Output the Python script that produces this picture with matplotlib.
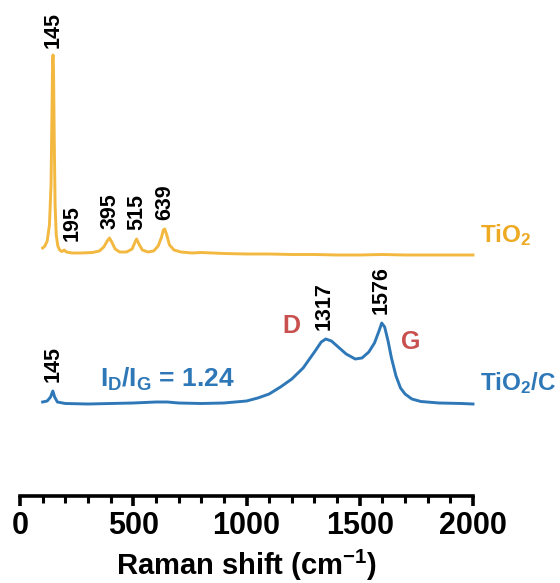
import matplotlib
matplotlib.use("Agg")
import matplotlib.pyplot as plt
import numpy as np

plt.rcParams['font.family'] = ['Liberation Sans', 'DejaVu Sans']
plt.rcParams['mathtext.fontset'] = 'custom'
plt.rcParams['mathtext.rm'] = 'Liberation Sans:bold'
plt.rcParams['mathtext.bf'] = 'Liberation Sans:bold'
plt.rcParams['mathtext.it'] = 'Liberation Sans:bold'
plt.rcParams['mathtext.default'] = 'bf'

# ---------------- data ----------------
tio2_shift = [100, 110, 120, 130, 137, 141, 144, 146, 148, 151, 155, 160, 167, 175,
              185, 195, 205, 230, 270, 320, 350, 370, 385, 395, 405, 420, 440, 470,
              495, 508, 515, 525, 540, 565, 590, 610, 625, 633, 639, 648, 660, 680,
              710, 760, 800, 900, 1000, 1100, 1200, 1300, 1400, 1500, 1600, 1700,
              1800, 1900, 2000]
tio2_int = [7, 9, 14, 30, 70, 140, 195, 200, 185, 120, 50, 20, 9, 5,
            3.5, 5, 3, 2, 2, 2.5, 4, 8, 14, 17, 13, 6, 3, 3,
            6, 13, 16, 11, 5, 3, 4, 9, 18, 25, 26, 20, 10, 5,
            3, 2, 2.5, 1.5, 1, 1, 0.5, 0.5, 0, 0, 0.5, 0,
            0, 0, 0]

tioc_shift = [100, 120, 135, 145, 153, 165, 200, 300, 400, 500, 600, 650, 700, 800,
              900, 950, 1000, 1050, 1100, 1150, 1200, 1250, 1300, 1330, 1350, 1375,
              1400, 1440, 1480, 1510, 1540, 1565, 1585, 1597, 1610, 1625, 1640, 1660,
              1680, 1700, 1730, 1770, 1850, 1950, 2000]
tioc_int = [2, 3, 7, 13, 7, 2, 0.5, 0, 0.5, 1, 2, 2, 1, 0.5,
            1, 2, 3, 6, 10, 17, 25, 36, 52, 62, 65, 63,
            58, 50, 45, 46, 52, 61, 73, 81, 77, 63, 46, 28,
            16, 10, 5, 2.5, 1, 0.5, 0]

tio2_peaks = [145, 195, 395, 515, 639]
tio2_peak_pos = [145, 228, 397, 516, 641]
tioc_peaks = [145, 1317, 1576]
tioc_peak_pos = [148, 1342, 1593]

id_ig = 1.24
xticks = [0, 500, 1000, 1500, 2000]

# ---------------- style ----------------
ORANGE = '#F3B840'
ORANGE_T = '#EDAA22'
BLUE = '#2F78B8'
RED = '#C8504E'

fig = plt.figure(figsize=(5.6, 5.83), dpi=100)
ax = fig.add_axes([20/560, 1-496/583, 453/560, 456/583])

off_tio2 = 241
off_tioc = 92

ax.plot(tio2_shift, np.array(tio2_int) + off_tio2, color=ORANGE, lw=2.1,
        solid_joinstyle='round', clip_on=False)
ax.plot(tioc_shift, np.array(tioc_int) + off_tioc, color=BLUE, lw=2.1,
        solid_joinstyle='round', clip_on=False)

ax.set_xlim(0, 2000)
ax.set_ylim(0, 456)

for lab, px in zip(tio2_peaks, tio2_peak_pos):
    h = np.interp(lab, tio2_shift, tio2_int) + off_tio2
    ax.text(px, h + 9, str(lab), rotation=90, ha='center', va='bottom',
            fontsize=15.5, fontweight='bold', color='black')
tx = np.array(tioc_shift)
ty = np.array(tioc_int)
for lab, px in zip(tioc_peaks, tioc_peak_pos):
    h = ty[np.abs(tx - px) < 20].max() + off_tioc
    ax.text(px, h + 9, str(lab), rotation=90, ha='center', va='bottom',
            fontsize=15.5, fontweight='bold', color='black')

ax.text(1200, 496 - 326, 'D', color=RED, fontsize=18, fontweight='bold',
        ha='center', va='center')
ax.text(1726, 496 - 342, 'G', color=RED, fontsize=18, fontweight='bold',
        ha='center', va='center')
ax.text(354, 496 - 379, r'$\mathbf{I_D/I_G}$' + f' = {id_ig:.2f}', color=BLUE,
        fontsize=19, fontweight='bold', ha='left', va='center')

ax.text(2030, 496 - 235, r'TiO$_\mathbf{2}$', color=ORANGE_T, fontsize=17.5,
        fontweight='bold', ha='left', va='center', clip_on=False)
ax.text(2030, 496 - 383, r'TiO$_\mathbf{2}$/C', color=BLUE, fontsize=17.5,
        fontweight='bold', ha='left', va='center', clip_on=False)

for s in ['top', 'right', 'left']:
    ax.spines[s].set_visible(False)
ax.spines['bottom'].set_linewidth(2.6)
ax.set_yticks([])
ax.set_xticks(xticks)
ax.set_xticks(np.arange(0, 2001, 100), minor=True)
ax.tick_params(axis='x', which='major', length=7, width=2.6, labelsize=22, pad=4)
ax.tick_params(axis='x', which='minor', length=5, width=2.2)
for t in ax.get_xticklabels():
    t.set_fontweight('bold')
ax.set_xlabel(r'Raman shift (cm$^\mathbf{-1}$)', fontsize=21, fontweight='bold',
              labelpad=5)

fig.savefig('out.png', dpi=100)
